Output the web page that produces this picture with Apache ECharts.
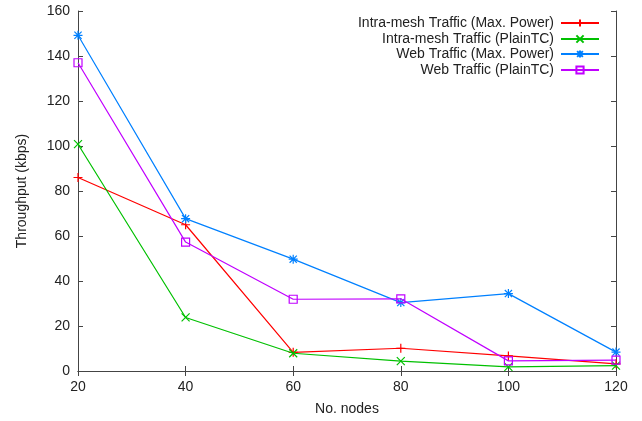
<!DOCTYPE html>
<html>
<head>
<meta charset="utf-8">
<script src="https://cdn.jsdelivr.net/npm/echarts@6/dist/echarts.min.js"></script>
<style>
  html, body { margin: 0; padding: 0; background: #fff; }
  #chart { width: 642px; height: 421px; }
</style>
</head>
<body>
<div id="chart"></div>
<script>
// Throughput versus network size for two traffic types and two power schemes
const nodes = [20, 40, 60, 80, 100, 120];
const intraMaxPower = [86, 65, 8.3, 10.1, 6.7, 3.2];
const intraPlainTC = [100.8, 23.8, 7.9, 4.4, 1.8, 2.4];
const webMaxPower = [149.2, 67.7, 49.7, 30.4, 34.4, 8.4];
const webPlainTC = [137, 57.3, 31.9, 32.1, 4.5, 4.8];

const seriesNames = [
  'Intra-mesh Traffic (Max. Power)',
  'Intra-mesh Traffic (PlainTC)',
  'Web Traffic (Max. Power)',
  'Web Traffic (PlainTC)'
];
const seriesValues = [intraMaxPower, intraPlainTC, webMaxPower, webPlainTC];
const colors = ['#ff0000', '#00c000', '#0080ff', '#c000ff'];

// point markers: plus, cross, asterisk, open square
const symbols = [
  'path://M0,5L10,5M5,0L5,10',
  'path://M0,0L10,10M0,10L10,0',
  'path://M0,5L10,5M5,0L5,10M1,1L9,9M1,9L9,1',
  'path://M0,0L10,0L10,10L0,10Z'
];
const symbolSizes = [9, 8, 9, 8];

const FONT = 'Liberation Sans, Arial, sans-serif';
const TXT = '#222';
const FS = 14;

const chart = echarts.init(document.getElementById('chart'));

const series = seriesNames.map((name, i) => ({
  name: name,
  type: 'line',
  data: nodes.map((n, j) => [n, seriesValues[i][j]]),
  symbol: symbols[i],
  symbolSize: symbolSizes[i],
  showAllSymbol: true,
  lineStyle: { color: colors[i], width: 1.2 },
  itemStyle: {
    color: i === 3 ? 'rgba(255,255,255,0)' : colors[i],
    borderColor: colors[i],
    borderWidth: 1.2
  },
  emphasis: { disabled: true },
  animation: false,
  z: 3 + i
}));

// one right-aligned legend entry per row, sample drawn after the text
const legendTops = [16, 32, 47, 63];
const legends = seriesNames.map((name, i) => ({
  data: [name],
  right: 42,
  top: legendTops[i],
  align: 'right',
  orient: 'vertical',
  itemWidth: 38,
  itemHeight: 9,
  itemGap: 0,
  padding: 0,
  textStyle: { fontFamily: FONT, fontSize: FS, color: TXT, padding: [0, 2, 0, 0] },
  selectedMode: false
}));

const axisLine = { show: true, lineStyle: { color: '#444', width: 1 } };
const axisTick = { show: true, inside: true, length: 5, lineStyle: { color: '#444' } };

chart.setOption({
  backgroundColor: '#fff',
  animation: false,
  grid: { left: 78, right: 26, top: 11, bottom: 48, containLabel: false },
  legend: legends,
  xAxis: [
    {
      type: 'value', min: 20, max: 120, interval: 20, position: 'bottom',
      name: 'No. nodes', nameLocation: 'middle', nameGap: 31,
      nameTextStyle: { fontFamily: FONT, fontSize: FS, color: TXT },
      axisLine: axisLine, axisTick: axisTick, splitLine: { show: false },
      axisLabel: { fontFamily: FONT, fontSize: FS, color: TXT, margin: 9 }
    },
    {
      type: 'value', min: 20, max: 120, interval: 20, position: 'top',
      axisLine: axisLine, axisTick: axisTick, splitLine: { show: false },
      axisLabel: { show: false }
    }
  ],
  yAxis: [
    {
      type: 'value', min: 0, max: 160, interval: 20, position: 'left',
      name: 'Throughput (kbps)', nameLocation: 'middle', nameGap: 49,
      nameTextStyle: { fontFamily: FONT, fontSize: FS, color: TXT },
      axisLine: axisLine, axisTick: axisTick, splitLine: { show: false },
      axisLabel: { fontFamily: FONT, fontSize: FS, color: TXT, margin: 8 }
    },
    {
      type: 'value', min: 0, max: 160, interval: 20, position: 'right',
      axisLine: axisLine, axisTick: axisTick, splitLine: { show: false },
      axisLabel: { show: false }
    }
  ],
  series: series
});
</script>
</body>
</html>
